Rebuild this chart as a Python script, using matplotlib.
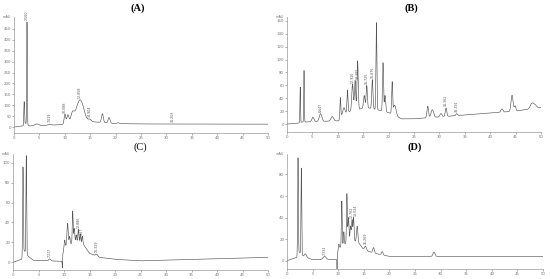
import numpy as np
import matplotlib
matplotlib.use("Agg")
import matplotlib.pyplot as plt

# ---------------- data ----------------
# Panel A: peaks (retention time min, height mAU, width min)
a_rt = [2.0, 2.56, 4.5, 7.0, 10.0, 10.6, 11.5, 12.4, 13.0, 13.6, 14.9, 17.4, 18.7, 20.5]
a_h  = [105, 470, 8, 5, 42, 35, 35, 45, 55, 40, 10, 40, 25, 4]
a_w  = [0.07, 0.06, 0.4, 0.3, 0.15, 0.2, 0.3, 0.6, 0.5, 0.5, 0.3, 0.18, 0.18, 0.2]
a_bt = [0, 1.8, 2.2, 3.0, 7.0, 9.9, 10.1, 15, 20, 25, 50]
a_bl = [0, 5, 18, 5, 8, 12, 20, 25, 16, 14, 13]
a_lab_t = [2.56, 7.0, 10.0, 12.9, 14.9, 31.2]
a_lab = ["2.560", "7.019", "10.088", "12.858", "14.904", "31.203"]

# Panel B
b_rt = [2.6, 3.35, 5.1, 6.6, 8.9, 10.5, 11.2, 11.9, 12.9, 13.4, 13.9, 15.2, 15.7, 16.8,
        17.6, 18.9, 19.3, 20.7, 21.2, 27.7, 28.6, 30.3, 31.3, 33.4, 42.3, 44.3, 44.9, 48.2, 48.8]
b_h  = [55, 80, 7, 12, 7, 30, 10, 35, 40, 45, 75, 20, 35, 45,
        135, 75, 25, 48, 15, 18, 12, 5, 13, 3, 5, 25, 8, 8, 5]
b_w  = [0.06, 0.06, 0.2, 0.25, 0.25, 0.08, 0.2, 0.1, 0.15, 0.12, 0.12, 0.15, 0.12, 0.12,
        0.09, 0.1, 0.12, 0.1, 0.25, 0.15, 0.25, 0.2, 0.15, 0.15, 0.2, 0.2, 0.15, 0.3, 0.3]
b_bt = [0, 2.0, 3.0, 10.2, 10.6, 13, 16, 19, 21, 22.5, 25, 35, 45, 50]
b_bl = [0, 1, 3, 5, 13, 22, 25, 20, 15, 8, 8, 14, 20, 26]
b_lab_t = [6.6, 12.9, 13.4, 15.7, 16.8, 31.3, 33.4]
b_lab = ["6.647", "12.910", "13.385", "15.725", "16.876", "31.362", "33.391"]

# Panel C
c_rt = [1.96, 2.6, 7.2, 10.1, 10.7, 11.1, 11.7, 12.0, 12.4, 12.8, 13.2, 13.6, 16.4]
c_h  = [88, 98, 2, 8, 22, 8, 32, 14, 8, 14, 10, 8, 2]
c_w  = [0.07, 0.07, 0.2, 0.1, 0.12, 0.1, 0.08, 0.1, 0.1, 0.1, 0.1, 0.1, 0.2]
c_bt = [0, 1.7, 2.2, 3.0, 4.0, 9.6, 9.68, 9.75, 10.2, 12, 13.8, 15, 17, 20, 25, 50]
c_bl = [0, 3, 12, 6, 2, 1, -6, 8, 16, 20, 18, 9, 5, 3, 1.5, 5]
c_lab_t = [7.2, 12.8, 13.0, 16.4]
c_lab = ["7.217", "12.886", "13.027", "16.339"]

# Panel D
d_rt = [2.15, 2.8, 3.6, 7.35, 10.1, 10.7, 11.1, 11.7, 12.0, 12.4, 12.7, 13.0, 13.7, 15.3, 16.9, 18.6, 28.7]
d_h  = [90, 80, 3, 3, 6, 42, 12, 45, 22, 14, 20, 22, 14, 4, 5, 3, 4]
d_w  = [0.07, 0.07, 0.2, 0.3, 0.1, 0.08, 0.08, 0.08, 0.1, 0.1, 0.1, 0.1, 0.12, 0.2, 0.15, 0.15, 0.2]
d_bt = [0, 1.9, 2.4, 3.2, 5, 9.7, 9.78, 9.85, 10.3, 12, 13.8, 15, 17, 20, 30, 50]
d_bl = [0, 3, 8, 4, 1, 1, -8, 6, 12, 18, 18, 10, 7, 4, 4, 4]
d_lab_t = [7.35, 12.7, 13.0, 15.3]
d_lab = ["7.331", "12.762", "13.024", "15.269"]

titles = ["(A)", "(B)", "(C)", "(D)"]
yticks_all = [list(range(0, 451, 50)), list(range(0, 161, 20)),
              list(range(0, 101, 20)), list(range(0, 81, 20))]
xticks = list(range(0, 51, 5))

# ---------------- layout ----------------
W, H = 550, 279
boxes = [  # left, right, top, bottom in px
    (14, 268, 17, 133),
    (287, 541, 17, 132),
    (13, 268, 154, 270),
    (287, 543, 154, 269),
]
ylims = [(-27.5, 505), (-12.4, 166), (-7.7, 108.7), (-7.7, 99)]
title_pos = [(138, 8), (411, 8), (140, 147), (415, 147)]

fig = plt.figure(figsize=(W / 100, H / 100), dpi=100)
fig.patch.set_facecolor("white")

t = np.linspace(0, 50, 6000)

def trace(rt, h, w, bt, bl):
    y = np.interp(t, bt, bl)
    for r, hh, ww in zip(rt, h, w):
        y = y + hh * np.exp(-0.5 * ((t - r) / ww) ** 2)
    return y

panels = [
    (a_rt, a_h, a_w, a_bt, a_bl, a_lab_t, a_lab),
    (b_rt, b_h, b_w, b_bt, b_bl, b_lab_t, b_lab),
    (c_rt, c_h, c_w, c_bt, c_bl, c_lab_t, c_lab),
    (d_rt, d_h, d_w, d_bt, d_bl, d_lab_t, d_lab),
]

for i, (rt, h, w, bt, bl, lt, lab) in enumerate(panels):
    l, r, tp, bt_px = boxes[i]
    ax = fig.add_axes([l / W, 1 - bt_px / H, (r - l) / W, (bt_px - tp) / H])
    y = trace(rt, h, w, bt, bl)
    ax.plot(t, y, color="#555555", lw=0.45)
    ax.set_xlim(0, 50)
    ax.set_ylim(*ylims[i])
    for s in ["top", "right"]:
        ax.spines[s].set_visible(False)
    for s in ["left", "bottom"]:
        ax.spines[s].set_color("#999999")
        ax.spines[s].set_linewidth(0.5)
    ax.set_xticks(xticks)
    ax.set_xticklabels([str(v) for v in xticks])
    yt = yticks_all[i]
    ax.set_yticks(yt)
    ax.set_yticklabels([str(v) for v in yt])
    ax.tick_params(axis="both", labelsize=2.8, colors="#777777", length=1.2,
                   width=0.4, pad=0.8)
    ax.text(-0.01, 1.0, "mAU", transform=ax.transAxes, fontsize=2.5,
            color="#777777", ha="right", va="center")
    # peak retention-time labels
    span = ylims[i][1] - ylims[i][0]
    prev_t = -10
    for tt, s in zip(lt, lab):
        yy = np.interp(tt, t, y)
        dx = 0.0
        if tt - prev_t < 0.6:
            dx = 0.45
        prev_t = tt
        ax.text(tt + dx, yy + span * 0.015, s, rotation=90,
                fontsize=2.3, color="#555555", ha="center", va="bottom")
    tx, ty = title_pos[i]
    fig.text(tx / W, 1 - ty / H, titles[i], ha="center", va="center",
             fontsize=7.5, fontweight="bold" if i != 2 else "normal",
             family="Liberation Serif", color="black")

fig.savefig("out.png", dpi=100, facecolor="white")
